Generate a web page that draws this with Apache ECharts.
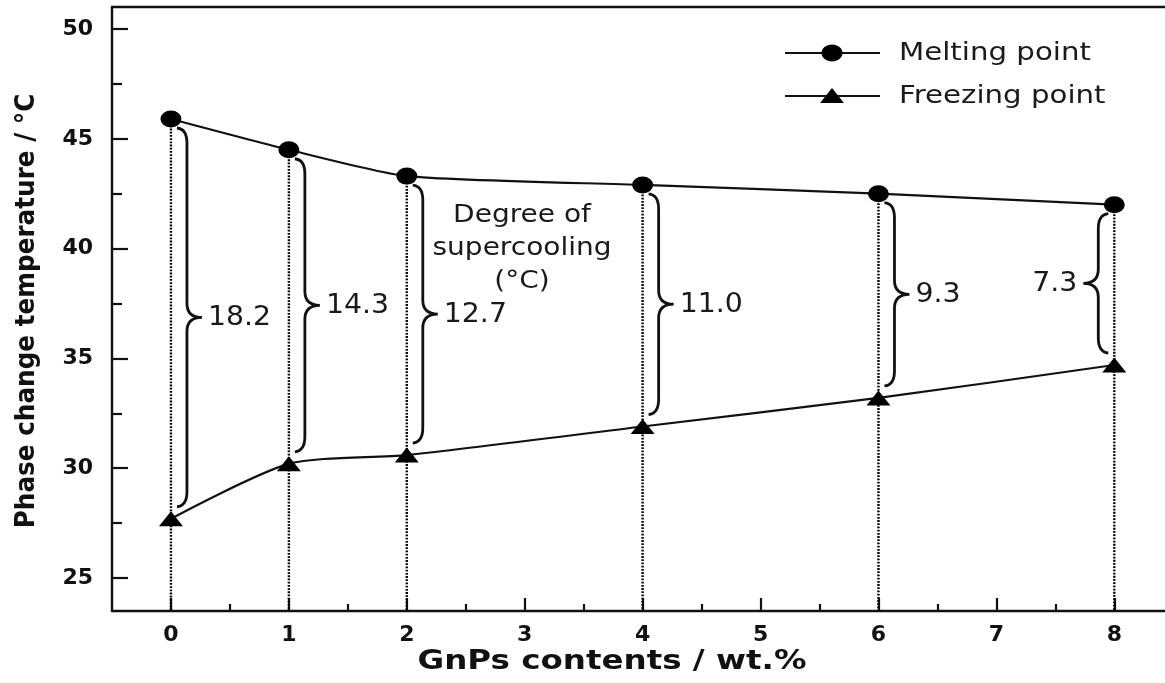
<!DOCTYPE html>
<html>
<head>
<meta charset="utf-8">
<title>Phase change temperature vs GnPs content</title>
<script src="https://cdn.jsdelivr.net/npm/echarts@6/dist/echarts.min.js"></script>
<style>
  html, body { margin: 0; padding: 0; background: #fff; }
  #chart { width: 1165px; height: 683px; }
</style>
</head>
<body>
<div id="chart"></div>
<script>
// GnPs loading (wt.%) and the measured transition temperatures (°C)
const gnpContent = [0, 1, 2, 4, 6, 8];
const meltingPoint = [45.9, 44.5, 43.3, 42.9, 42.5, 42.0];
const freezingPoint = [27.7, 30.2, 30.6, 31.9, 33.2, 34.7];
const supercooling = [18.2, 14.3, 12.7, 11.0, 9.3, 7.3];

// axis ticks
const xMajorTicks = [0, 1, 2, 3, 4, 5, 6, 7, 8];
const xMinorTicks = [0.5, 1.5, 2.5, 3.5, 4.5, 5.5, 6.5, 7.5];
const yMajorTicks = [25, 30, 35, 40, 45, 50];
const yMinorTicks = [27.5, 32.5, 37.5, 42.5, 47.5];

// the plot frame runs past the right edge of the page
const X_MIN = -0.5, X_MAX = 8.43, Y_MIN = 23.5, Y_MAX = 51;
const INK = '#111';
const TEXT_INK = '#1a1a1a';
const SANS = 'DejaVu Sans, Liberation Sans, Arial, sans-serif';

const chart = echarts.init(document.getElementById('chart'));

// brace "}" between the two curves, pointing right (dir = 1) or left (dir = -1)
function bracePath(tx, yTop, yBot, dir) {
  const d = 16 * dir, tip = 31 * dir, hook = 6 * dir;
  const ym = (yTop + yBot) / 2;
  return 'M' + (tx + hook) + ',' + yTop +
    ' Q' + (tx + d) + ',' + (yTop + 1) + ' ' + (tx + d) + ',' + (yTop + 15) +
    ' L' + (tx + d) + ',' + (ym - 14) +
    ' Q' + (tx + d) + ',' + ym + ' ' + (tx + tip) + ',' + ym +
    ' Q' + (tx + d) + ',' + ym + ' ' + (tx + d) + ',' + (ym + 14) +
    ' L' + (tx + d) + ',' + (yBot - 15) +
    ' Q' + (tx + d) + ',' + (yBot - 1) + ' ' + (tx + hook) + ',' + yBot;
}

const annotationData = gnpContent.map((x, i) => [x, meltingPoint[i], freezingPoint[i], supercooling[i]]);
const lastIndex = gnpContent.length - 1;

function renderAnnotation(params, api) {
  const x = api.value(0);
  const top = api.coord([x, api.value(1)]);
  const bot = api.coord([x, api.value(2)]);
  const cs = params.coordSys;
  const axisBottom = cs.y + cs.height;
  const dir = params.dataIndex === lastIndex ? -1 : 1;
  const yTop = top[1] + 9;
  const yBot = bot[1] - 12;
  const ym = (yTop + yBot) / 2;
  return {
    type: 'group',
    children: [
      {
        type: 'line',
        shape: { x1: top[0], y1: top[1], x2: top[0], y2: axisBottom },
        style: { stroke: '#000', lineWidth: 2.4, lineDash: [1.8, 1.4] },
        z2: 1
      },
      {
        type: 'path',
        shape: { pathData: bracePath(top[0], yTop, yBot, dir) },
        style: { stroke: INK, lineWidth: 2.8, fill: null },
        z2: 2
      },
      {
        type: 'text',
        x: top[0] + 37 * dir,
        y: ym + 1,
        scaleX: 1.05,
        style: {
          text: api.value(3).toFixed(1),
          font: '27px ' + SANS,
          fill: TEXT_INK,
          align: dir > 0 ? 'left' : 'right',
          verticalAlign: 'middle'
        },
        z2: 3
      }
    ]
  };
}

// legend drawn as line + marker + text
function legendRow(y, symbol, label) {
  const children = [
    { type: 'line', shape: { x1: 785, y1: y, x2: 880, y2: y }, style: { stroke: INK, lineWidth: 2 } },
    {
      type: 'text', x: 899, y: y, scaleX: 1.17,
      style: { text: label, font: '25px ' + SANS, fill: TEXT_INK, align: 'left', verticalAlign: 'middle' }
    }
  ];
  if (symbol === 'circle') {
    children.push({ type: 'ellipse', shape: { cx: 832, cy: y, rx: 10.5, ry: 8.5 }, style: { fill: '#000' } });
  } else {
    children.push({ type: 'polygon', shape: { points: [[832, y - 8], [844, y + 7], [820, y + 7]] }, style: { fill: '#000' } });
  }
  return { type: 'group', children: children };
}

const hiddenAxisParts = {
  splitLine: { show: false },
  axisLabel: { show: false }
};

const option = {
  backgroundColor: '#fff',
  animation: false,
  grid: { left: 112, top: 7, right: 0, bottom: 72, show: false },
  xAxis: [
    {
      type: 'value', min: X_MIN, max: X_MAX, interval: 0.5, position: 'bottom',
      splitLine: { show: false },
      axisLine: { show: true, onZero: false, lineStyle: { color: INK, width: 2.4 } },
      axisTick: { show: true, inside: true, length: 13, customValues: xMajorTicks, lineStyle: { color: INK, width: 2.2 } },
      axisLabel: {
        customValues: xMajorTicks, margin: 13,
        fontFamily: SANS, fontWeight: 'bold', fontSize: 22, color: INK
      }
    },
    Object.assign({
      type: 'value', min: X_MIN, max: X_MAX, interval: 0.5, position: 'bottom',
      axisLine: { show: false, onZero: false },
      axisTick: { show: true, inside: true, length: 7, customValues: xMinorTicks, lineStyle: { color: INK, width: 2.2 } }
    }, hiddenAxisParts),
    Object.assign({
      type: 'value', min: X_MIN, max: X_MAX, interval: 0.5, position: 'top',
      axisLine: { show: true, onZero: false, lineStyle: { color: INK, width: 2.4 } },
      axisTick: { show: false }
    }, hiddenAxisParts)
  ],
  yAxis: [
    {
      type: 'value', min: Y_MIN, max: Y_MAX, interval: 0.5, position: 'left',
      splitLine: { show: false },
      axisLine: { show: true, onZero: false, lineStyle: { color: INK, width: 2.4 } },
      axisTick: { show: true, inside: true, length: 16, customValues: yMajorTicks, lineStyle: { color: INK, width: 2.2 } },
      axisLabel: {
        customValues: yMajorTicks, margin: 19,
        fontFamily: SANS, fontWeight: 'bold', fontSize: 22, color: INK
      }
    },
    Object.assign({
      type: 'value', min: Y_MIN, max: Y_MAX, interval: 0.5, position: 'left',
      axisLine: { show: false, onZero: false },
      axisTick: { show: true, inside: true, length: 10, customValues: yMinorTicks, lineStyle: { color: INK, width: 2.2 } }
    }, hiddenAxisParts)
  ],
  series: [
    {
      name: 'Degree of supercooling',
      type: 'custom',
      renderItem: renderAnnotation,
      data: annotationData,
      z: 1,
      silent: true
    },
    {
      name: 'Melting point',
      type: 'line',
      data: gnpContent.map((x, i) => [x, meltingPoint[i]]),
      smooth: 0.2,
      symbol: 'circle',
      symbolSize: [21, 17],
      itemStyle: { color: '#000' },
      lineStyle: { color: INK, width: 2.2 },
      z: 3
    },
    {
      name: 'Freezing point',
      type: 'line',
      data: gnpContent.map((x, i) => [x, freezingPoint[i]]),
      smooth: 0.25,
      symbol: 'triangle',
      symbolSize: [24, 15],
      itemStyle: { color: '#000' },
      lineStyle: { color: INK, width: 2.2 },
      z: 3
    }
  ],
  graphic: [
    legendRow(53, 'circle', 'Melting point'),
    legendRow(96, 'triangle', 'Freezing point'),
    {
      type: 'text', x: 522, y: 248, scaleX: 1.12,
      style: {
        text: 'Degree of\nsupercooling\n(°C)',
        font: '25px ' + SANS, fill: TEXT_INK, align: 'center', verticalAlign: 'middle', lineHeight: 33
      }
    },
    {
      type: 'text', x: 612, y: 662, scaleX: 1.25,
      style: { text: 'GnPs contents / wt.%', font: 'bold 26px ' + SANS, fill: INK, align: 'center', verticalAlign: 'middle' }
    },
    {
      type: 'text', x: 27, y: 311, rotation: Math.PI / 2, scaleX: 0.95,
      style: { text: 'Phase change temperature / °C', font: 'bold 26px ' + SANS, fill: INK, align: 'center', verticalAlign: 'middle' }
    }
  ]
};

chart.setOption(option);
</script>
</body>
</html>
